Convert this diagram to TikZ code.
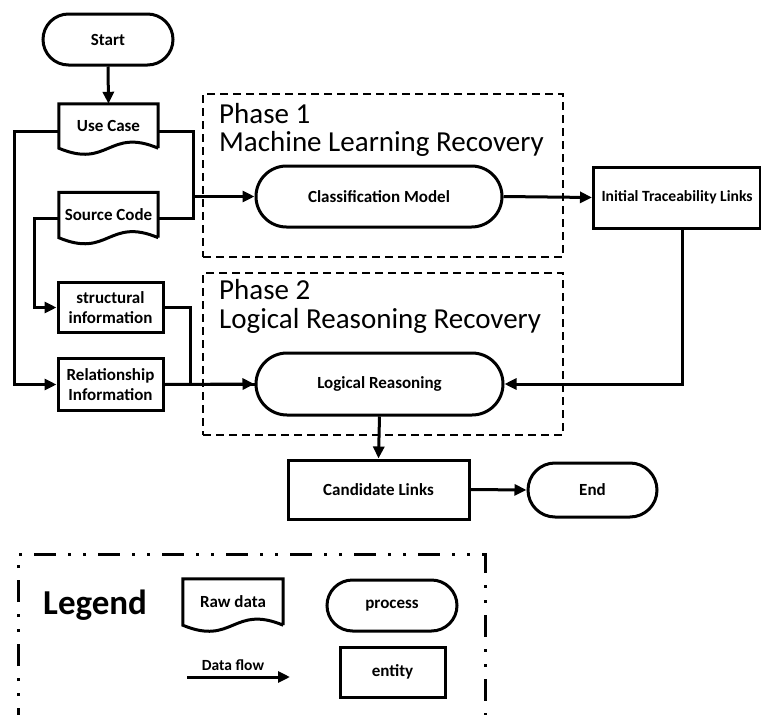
\documentclass[tikz,border=0pt]{standalone}
\usepackage{fontspec}
\setmainfont{Carlito}
\usetikzlibrary{shapes.misc,arrows.meta,calc}
\tikzset{
  outl/.style={line width=3pt},
  txt/.style={font=\bfseries\fontsize{17}{20}\selectfont},
  proc/.style={rounded rectangle, draw, outl, txt, inner sep=0pt},
  ent/.style={rectangle, draw, outl, txt, inner sep=0pt, align=center},
  docn/.style={rectangle, txt, inner sep=0pt},
  flow/.style={line width=3pt, -{Triangle[length=12pt,width=11pt]}},
  link/.style={line width=3pt},
  phase/.style={draw, line width=2pt, dash pattern=on 8pt off 5pt, inner sep=0pt},
  ptitle/.style={font=\fontsize{29}{31}\selectfont, anchor=base west, inner sep=0pt},
}
\newcommand{\docshape}[1]{%
  \draw[outl, line join=miter] (#1.south east) -- (#1.north east) -- (#1.north west) -- (#1.south west)
   .. controls ($(#1.south)+(0,21)$) and ($(#1.south)+(0,-21)$) .. (#1.south east);}
\begin{document}
\begin{tikzpicture}[x=1pt,y=-1pt]
\useasboundingbox (0,0) rectangle (761,715);
% phase boxes
\node[phase, minimum width=360pt, minimum height=163pt] (ph1) at (383,175.5) {};
\node[phase, minimum width=360pt, minimum height=162pt] (ph2) at (383,354) {};
\node[ptitle] (p1a) at (219,123) {Phase 1};
\node[ptitle] (p1b) at (219,151) {Machine Learning Recovery};
\node[ptitle] (p2a) at (219,299) {Phase 2};
\node[ptitle] (p2b) at (219,328) {Logical Reasoning Recovery};
% nodes
\node[proc, minimum width=130pt, minimum height=51pt] (start) at (108,39.5) {Start};
\node[docn, minimum width=99pt, minimum height=44pt] (uc) at (108.5,126) {Use Case};
\node[docn, minimum width=99pt, minimum height=45pt] (sc) at (108.5,215) {Source Code};
\docshape{uc}
\docshape{sc}
\node[ent, minimum width=105pt, minimum height=50pt] (si) at (110.5,307.5) {structural\\information};
\node[ent, minimum width=105pt, minimum height=52pt] (rel) at (110.5,384.5) {Relationship\\Information};
\node[proc, minimum width=246pt, minimum height=61pt] (cm) at (379,196.5) {Classification Model};
\node[ent, anchor=west, minimum height=61pt, inner xsep=8pt, font=\bfseries\fontsize{15.6}{18}\selectfont] (itl) at (592,197.5) {Initial Traceability Links};
\node[proc, minimum width=247pt, minimum height=62pt] (lr) at (379.5,384) {Logical Reasoning};
\node[ent, minimum width=181pt, minimum height=59pt] (cl) at (378.5,489.5) {Candidate Links};
\node[proc, minimum width=129pt, minimum height=54pt] (end) at (592.5,490) {End};
% connectors
\coordinate (j1) at (193,196.5);
\draw[flow] (start.south) -- (uc.north);
\draw[flow] ([yshift=-5pt]uc.west) -- (14,131) |- (rel.west);
\draw[link] ([yshift=-5pt]uc.east) -- (193,131) |- ([yshift=-3pt]sc.east);
\draw[flow] (j1) -- (cm.west);
\draw[flow] ([yshift=-3pt]sc.west) -- (34,218) |- (si.west);
\draw[link] (si.east) -- (190,307.5) |- (lr.west);
\draw[flow] (rel.east) -- (lr.west);
\draw[flow] (cm.east) -- (itl.west);
\draw[flow] (itl.south -| 682,0) |- (lr.east);
\draw[flow] (lr.south) -- (cl.north);
\draw[flow] (cl.east) -- (end.west);
% legend
\draw[line width=3pt, dash pattern=on 22pt off 12pt on 3pt off 12pt on 3pt off 12pt] (18,730) -- (18,554) -- (485,554) -- (485,730);
\node[font=\bfseries\fontsize{35}{38}\selectfont, anchor=base west, inner sep=0pt] (leg) at (43,614) {Legend};
\node[docn, minimum width=100pt, minimum height=46pt] (raw) at (233,602) {Raw data};
\docshape{raw}
\node[proc, minimum width=130pt, minimum height=51pt] (lp) at (392,605.5) {process};
\node[ent, minimum width=105pt, minimum height=50pt] (le) at (392.5,672) {entity};
\coordinate (dfa) at (187,677);
\coordinate (dfb) at (290,677);
\draw[flow] (dfa) -- (dfb);
\node[font=\bfseries\fontsize{15.5}{17}\selectfont, inner sep=0pt] (dfl) at (233,665) {Data flow};
\end{tikzpicture}
\end{document}
